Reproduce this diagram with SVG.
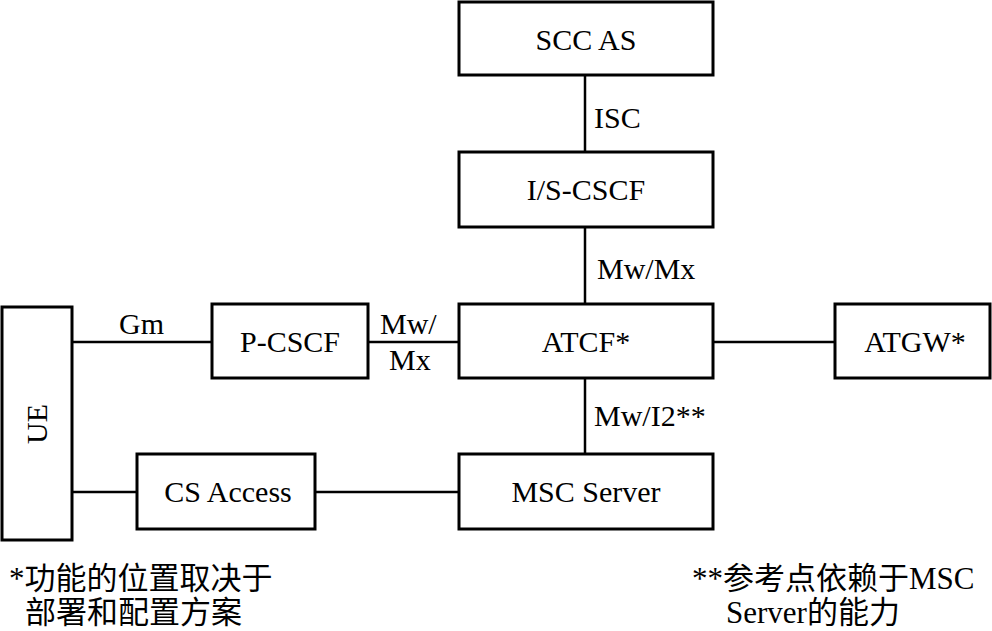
<svg xmlns="http://www.w3.org/2000/svg" width="992" height="631" viewBox="0 0 992 631">
<style>
.box{fill:#fff;stroke:#000;stroke-width:3}
.ln{stroke:#000;stroke-width:2.5;fill:none}
.t{font-family:"Liberation Serif","Times New Roman",serif;font-size:30px;fill:#000}
.c{text-anchor:middle}
.fn{font-family:"Liberation Serif","Noto Sans CJK SC",serif;font-size:31px;fill:#000}
</style>
<rect width="992" height="631" fill="#fff"/>
<g id="connectors">
<line class="ln" x1="585" y1="75" x2="585" y2="152"/>
<line class="ln" x1="585" y1="227" x2="585" y2="304"/>
<line class="ln" x1="72" y1="342" x2="212" y2="342"/>
<line class="ln" x1="368" y1="342" x2="459" y2="342"/>
<line class="ln" x1="713" y1="342" x2="835" y2="342"/>
<line class="ln" x1="585" y1="378" x2="585" y2="454"/>
<line class="ln" x1="72" y1="492" x2="137" y2="492"/>
<line class="ln" x1="315" y1="492" x2="459" y2="492"/>
<text class="t" x="594" y="128">ISC</text>
<text class="t" x="597" y="279">Mw/Mx</text>
<text class="t" x="119" y="334">Gm</text>
<text class="t" x="380" y="334">Mw/</text>
<text class="t" x="389" y="370">Mx</text>
<text class="t" x="594" y="426">Mw/I2**</text>
</g>
<g id="scc-as"><rect class="box" x="459" y="2" width="254" height="73"/><text class="t c" x="586" y="50">SCC AS</text></g>
<g id="is-cscf"><rect class="box" x="459" y="152" width="254" height="75"/><text class="t c" x="586" y="200">I/S-CSCF</text></g>
<g id="ue"><rect class="box" x="2" y="307" width="70" height="233"/><text class="t c" transform="translate(47,424) rotate(-90)">UE</text></g>
<g id="p-cscf"><rect class="box" x="212" y="304" width="156" height="74"/><text class="t c" x="290" y="352">P-CSCF</text></g>
<g id="atcf"><rect class="box" x="459" y="304" width="254" height="74"/><text class="t c" x="586" y="352">ATCF*</text></g>
<g id="atgw"><rect class="box" x="835" y="304" width="155" height="74"/><text class="t c" x="915" y="352">ATGW*</text></g>
<g id="cs-access"><rect class="box" x="137" y="454" width="178" height="75"/><text class="t c" x="228" y="502">CS Access</text></g>
<g id="msc-server"><rect class="box" x="459" y="454" width="254" height="75"/><text class="t c" x="586" y="502">MSC Server</text></g>
<text class="fn" x="9" y="589">*功能的位置取决于</text>
<text class="fn" x="25" y="623">部署和配置方案</text>
<text class="fn" x="692" y="589">**参考点依赖于MSC</text>
<text class="fn" x="726" y="623">Server的能力</text>
</svg>
